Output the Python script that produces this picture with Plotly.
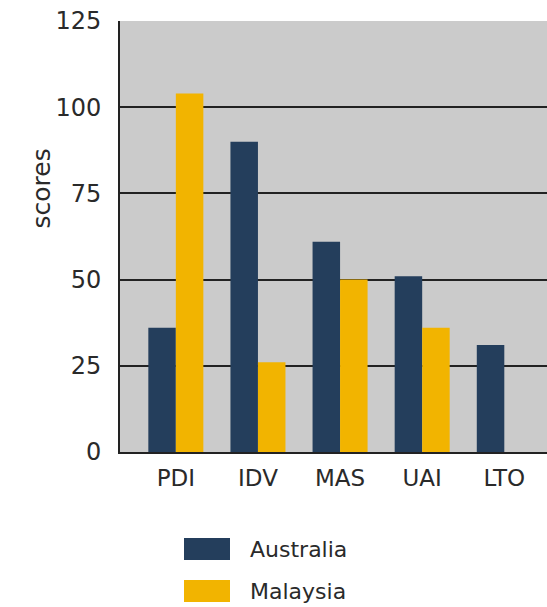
import plotly.graph_objects as go

categories = ["PDI", "IDV", "MAS", "UAI", "LTO"]
series_names = ["Australia", "Malaysia"]
australia = [36, 90, 61, 51, 31]
malaysia = [104, 26, 50, 36, None]
y_ticks = [0, 25, 50, 75, 100, 125]
colors = ["#243e5c", "#f2b400"]

W, H = 547, 607
L, R, T, B = 120, 0, 21, 155
pw, ph = W - L - R, H - T - B

def px(x):
    return (x - L) / pw

def py(y):
    return (H - B - y) / ph

fig = go.Figure()
for name, vals, c in zip(series_names, [australia, malaysia], colors):
    fig.add_trace(go.Bar(x=categories, y=vals, name=name, marker=dict(color=c, line=dict(width=0)),
                         showlegend=False))

font = "DejaVu Sans, Verdana, sans-serif"
fig.update_layout(
    width=W, height=H,
    margin=dict(l=L, r=R, t=T, b=B),
    paper_bgcolor="white",
    plot_bgcolor="#cbcbcb",
    barmode="group",
    bargap=0.33,
    bargroupgap=0,
    font=dict(family=font, color="#2a2a2a"),
    xaxis=dict(range=[-0.68, 4.52], showgrid=False, showline=True, linecolor="#222222", linewidth=2,
               ticks="", tickfont=dict(size=23, family=font), ticklabelstandoff=4, fixedrange=True),
    yaxis=dict(range=[0, 125], tickvals=y_ticks, showgrid=True, gridcolor="#222222", gridwidth=2,
               showline=True, linecolor="#222222", linewidth=2, ticks="", zeroline=False,
               tickfont=dict(size=24, family=font), ticklabelstandoff=12),
)

# y-axis title
fig.add_annotation(text="scores", x=px(24), y=py(189), xref="paper", yref="paper", showarrow=False,
                   textangle=-90, font=dict(size=25, family=font, color="#2a2a2a"))

# custom legend
leg_y = [549, 591]
for name, c, ly in zip(series_names, colors, leg_y):
    fig.add_shape(type="rect", xref="paper", yref="paper", x0=px(184), x1=px(230),
                  y0=py(ly - 11), y1=py(ly + 11), fillcolor=c, line=dict(width=0))
    fig.add_annotation(text=name, x=px(248), y=py(ly), xref="paper", yref="paper", showarrow=False,
                       xanchor="left", yanchor="middle", font=dict(size=22, family=font, color="#2a2a2a"))

fig.write_html("out.html")
